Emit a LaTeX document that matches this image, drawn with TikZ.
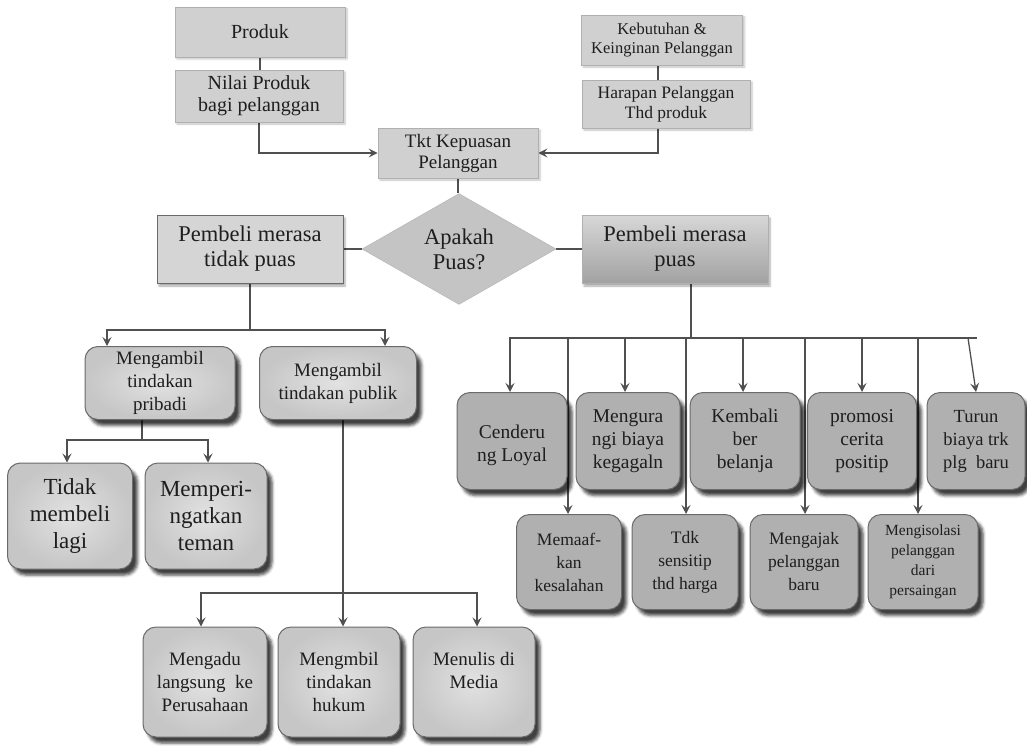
\documentclass[tikz,border=0pt]{standalone}
\usepackage{fontspec}
\setmainfont{Liberation Serif}
\usetikzlibrary{shapes.geometric,arrows.meta,shadows.blur,backgrounds}

\definecolor{linec}{HTML}{505050}
\definecolor{txt}{HTML}{1E1E1E}
\definecolor{flatfill}{HTML}{D0D0D0}
\definecolor{flatedge}{HTML}{B0B0B0}
\definecolor{lboxin}{HTML}{E2E2E2}
\definecolor{lboxout}{HTML}{C6C6C6}
\definecolor{rboxfill}{HTML}{B0B0B0}
\definecolor{boxedge}{HTML}{6A6A6A}

\tikzset{
  base/.style={align=center, text=txt, inner sep=1pt},
  ln/.style={draw=linec, line width=1.3pt},
  arr/.style={ln, -{Stealth[length=9pt,width=9pt,inset=3.5pt]}},
  flat/.style={base, rectangle, fill=flatfill, draw=flatedge, line width=0.8pt,
    blur shadow={shadow xshift=2pt, shadow yshift=-2pt, shadow opacity=25, shadow blur radius=2pt}},
  choice/.style={base, rectangle, draw=boxedge, line width=1pt,
    font=\fontsize{22.5}{25}\selectfont,
    blur shadow={shadow xshift=2pt, shadow yshift=-3pt, shadow opacity=35, shadow blur radius=2pt}},
  lbox/.style={base, rectangle, rounded corners=13pt, inner color=lboxin, outer color=lboxout,
    draw=boxedge, line width=1pt,
    blur shadow={shadow xshift=5pt, shadow yshift=-6pt, shadow opacity=75, shadow blur radius=3pt}},
  rbox/.style={base, rectangle, rounded corners=13pt, fill=rboxfill,
    draw=boxedge, line width=1pt,
    blur shadow={shadow xshift=5pt, shadow yshift=-6pt, shadow opacity=75, shadow blur radius=3pt}},
}

\begin{document}
\begin{tikzpicture}[x=1pt, y=-1pt]
\useasboundingbox (0,0) rectangle (1027,749);

% top: inputs to customer satisfaction
\node[flat, minimum width=170pt, minimum height=50pt, font=\fontsize{20}{22}\selectfont] (produk) at (260,32) {Produk};
\node[flat, minimum width=168pt, minimum height=52pt, font=\fontsize{20}{22}\selectfont] (nilai) at (259,96) {Nilai Produk\\bagi pelanggan};
\node[flat, minimum width=161pt, minimum height=50pt, font=\fontsize{16.5}{19}\selectfont] (kebutuhan) at (662,40) {Kebutuhan \&\\Keinginan Pelanggan};
\node[flat, minimum width=168pt, minimum height=48pt, font=\fontsize{17.5}{20}\selectfont] (harapan) at (666,104) {Harapan Pelanggan\\Thd produk};
\node[flat, minimum width=160pt, minimum height=50pt, font=\fontsize{19}{21}\selectfont] (tkt) at (458,153) {Tkt Kepuasan\\Pelanggan};

% decision
\node[base, diamond, fill=flatfill!94!black, draw=flatedge, minimum width=194pt, minimum height=82pt,
  inner sep=0pt, font=\fontsize{22.5}{25}\selectfont] (apakah) at (459,249) {Apakah\\Puas?};
\node[choice, fill=flatfill!90!white, minimum width=186pt, minimum height=68pt] (tidak) at (250,249) {Pembeli merasa\\tidak puas};
\node[choice, top color=flatfill!85!white, bottom color=rboxfill!92!black, draw=flatedge,
  minimum width=186pt, minimum height=68pt] (puas) at (675,249) {Pembeli merasa\\puas};

% left branch
\node[lbox, minimum width=150pt, minimum height=73pt, font=\fontsize{19}{23}\selectfont] (pribadi) at (160,383) {Mengambil\\tindakan\\pribadi};
\node[lbox, minimum width=157pt, minimum height=73pt, font=\fontsize{19}{23}\selectfont] (publik) at (338,383) {Mengambil\\tindakan publik};
\node[lbox, minimum width=125pt, minimum height=106pt, font=\fontsize{23}{27}\selectfont] (tidakbeli) at (70,516) {Tidak\\membeli\\lagi};
\node[lbox, minimum width=122pt, minimum height=106pt, font=\fontsize{23}{27}\selectfont] (ingat) at (206,516) {Memperi-\\ngatkan\\teman};
\node[lbox, minimum width=124pt, minimum height=110pt, font=\fontsize{19}{23}\selectfont] (mengadu) at (205,682) {Mengadu\\langsung\ \ ke\\Perusahaan};
\node[lbox, minimum width=122pt, minimum height=110pt, font=\fontsize{19}{23}\selectfont] (hukum) at (339,682) {Mengmbil\\tindakan\\hukum};
\node[lbox, minimum width=122pt, minimum height=110pt, font=\fontsize{19}{23}\selectfont] (media) at (474,682) {Menulis di\\Media\\\mbox{}};

% right branch, upper row
\node[rbox, minimum width=110pt, minimum height=97pt, font=\fontsize{19.5}{23}\selectfont] (loyal) at (512,441) {\mbox{}\\Cenderu\\ng Loyal};
\node[rbox, minimum width=104pt, minimum height=97pt, font=\fontsize{19.5}{23}\selectfont] (kurang) at (628,441) {Mengura\\ngi biaya\\kegagaln};
\node[rbox, minimum width=110pt, minimum height=97pt, font=\fontsize{19.5}{23}\selectfont] (kembali) at (745,441) {Kembali\\ber\\belanja};
\node[rbox, minimum width=109pt, minimum height=97pt, font=\fontsize{19.5}{23}\selectfont] (promosi) at (862,441) {promosi\\cerita\\positip};
\node[rbox, minimum width=98pt, minimum height=97pt, font=\fontsize{18.5}{23}\selectfont] (turun) at (976,441) {Turun\\biaya trk\\plg\ \ baru};

% right branch, lower row
\node[rbox, minimum width=105pt, minimum height=95pt, font=\fontsize{17.5}{23}\selectfont] (maaf) at (569,562) {Memaaf-\\kan\\kesalahan};
\node[rbox, minimum width=106pt, minimum height=95pt, font=\fontsize{17.5}{23}\selectfont] (tdk) at (685,562) {Tdk\\sensitip\\thd harga};
\node[rbox, minimum width=108pt, minimum height=95pt, font=\fontsize{17.5}{23}\selectfont] (ajak) at (804,562) {Mengajak\\pelanggan\\baru};
\node[rbox, minimum width=110pt, minimum height=95pt, font=\fontsize{15.5}{20}\selectfont] (isolasi) at (923,562) {Mengisolasi\\pelanggan\\dari\\persaingan};

% junction points of the connector buses
\coordinate (jL) at (250,330);
\coordinate (jP) at (142,440);
\coordinate (jB) at (343,593);
\coordinate (jR) at (691,338);
\coordinate (jT) at (968,338);
\coordinate (busEnd) at (977,338);

\begin{scope}[on background layer]
  % top
  \draw[ln] (produk.south) -- (produk.south |- nilai.north);
  \draw[arr] (nilai.south) |- (tkt.west);
  \draw[ln] (kebutuhan.south -| 658,0) -- (harapan.north -| 658,0);
  \draw[arr] (harapan.south -| 658,0) |- (tkt.east);
  \draw[ln] (tkt.south) -- (tkt.south |- apakah.north);
  \draw[ln] (apakah.west) -- (tidak.east);
  \draw[ln] (apakah.east) -- (puas.west);
  % not satisfied
  \draw[ln] (tidak.south) -- (jL);
  \draw[arr] (jL) -| (pribadi.north -| 107,0);
  \draw[arr] (jL) -| (publik.north -| 385,0);
  \draw[ln] (pribadi.south -| jP) -- (jP);
  \draw[arr] (jP) -| (tidakbeli.north -| 67,0);
  \draw[arr] (jP) -| (ingat.north -| 208,0);
  \draw[arr] (publik.south -| jB) -- (hukum.north -| jB);
  \draw[arr] (jB) -| (mengadu.north -| 201,0);
  \draw[arr] (jB) -| (media.north -| 477,0);
  % satisfied
  \draw[ln] (puas.south -| jR) -- (jR);
  \draw[ln] (jR) -- (busEnd);
  \draw[arr] (jR) -| (loyal.north -| 510,0);
  \draw[arr] (jR) -| (kurang.north -| 625,0);
  \draw[arr] (jR) -| (kembali.north -| 743,0);
  \draw[arr] (jR) -| (promosi.north -| 862,0);
  \draw[arr] (jT) -- (turun.north);
  \draw[arr] (jR) -| (maaf.north -| 568,0);
  \draw[arr] (jR) -| (tdk.north -| 686,0);
  \draw[arr] (jR) -| (ajak.north -| 805,0);
  \draw[arr] (jR) -| (isolasi.north -| 918,0);
\end{scope}
\end{tikzpicture}
\end{document}
